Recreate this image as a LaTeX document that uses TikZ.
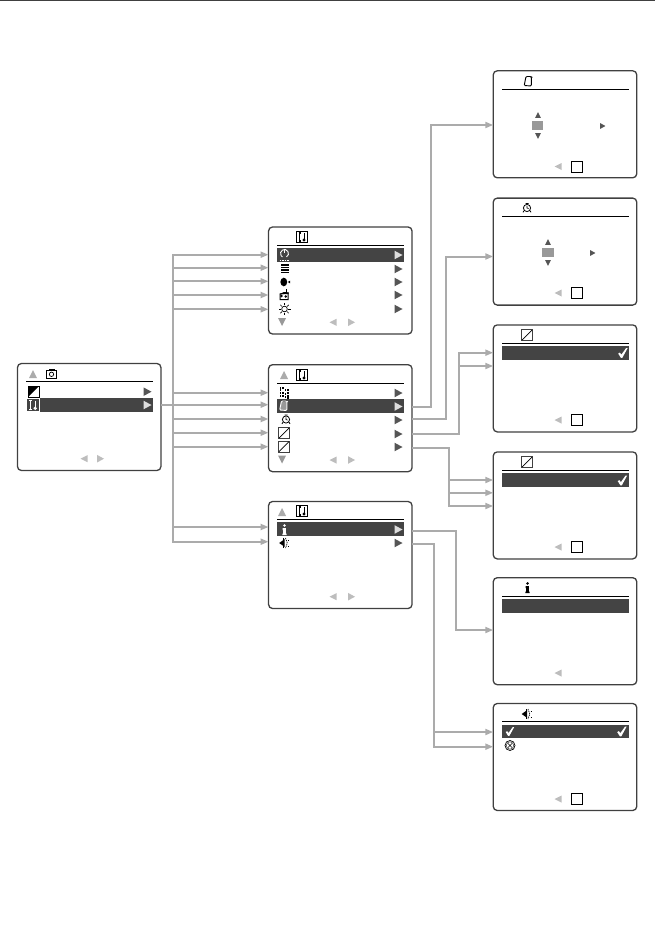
\documentclass[tikz,border=0pt]{standalone}
\usepackage{xcolor}
\usepackage{tikz}
\usetikzlibrary{arrows.meta}

\definecolor{scrline}{HTML}{404040}
\definecolor{barcol}{HTML}{444444}
\definecolor{linkgrey}{HTML}{ABABAB}
\definecolor{markdark}{HTML}{555555}
\definecolor{marklight}{HTML}{DDDDDD}
\definecolor{navgrey}{HTML}{BDBDBD}
\definecolor{spingrey}{HTML}{999999}

\newcommand{\triright}[4]{\fill[#1] ({#2-#4},{#3-#4-0.3}) -- ({#2+#4},#3) -- ({#2-#4},{#3+#4+0.3}) -- cycle;}
\newcommand{\trileft}[4]{\fill[#1] ({#2+#4},{#3-#4}) -- ({#2-#4},#3) -- ({#2+#4},{#3+#4}) -- cycle;}
\newcommand{\triup}[4]{\fill[#1] ({#2-#4},{#3+#4}) -- (#2,{#3-#4}) -- ({#2+#4},{#3+#4}) -- cycle;}
\newcommand{\tridown}[4]{\fill[#1] ({#2-#4},{#3-#4}) -- (#2,{#3+#4}) -- ({#2+#4},{#3-#4}) -- cycle;}

\tikzset{
  screen/.style={draw=scrline, line width=1.3pt, rounded corners=4pt, fill=white, minimum width=143.5pt, minimum height=107pt, inner sep=0pt, outer sep=0pt},
  selbar/.style={fill=barcol, minimum width=127pt, minimum height=14pt, inner sep=0pt, outer sep=0pt},
  okbox/.style={draw=black, line width=0.9pt, fill=white, minimum width=11pt, minimum height=11pt, inner sep=0pt, outer sep=0pt},
  spinbox/.style={fill=spingrey, minimum width=11pt, minimum height=9pt, inner sep=0pt, outer sep=0pt},
  headline/.style={draw=black, line width=1pt},
  link/.style={draw=linkgrey, line width=2pt},
  linkto/.style={link, -{Triangle[length=8pt,width=6pt,fill=linkgrey]}},
  toolsicon/.pic={
    \draw[line width=1pt] (-5.5,-5.5) rectangle (5.5,5.5);
    \draw[line width=1.1pt] (-2.3,-4) -- (-2.3,4) (-3.5,-4) -- (-1,-4) (-3.5,4) -- (-1,4);
    \draw[line width=1pt] (2,-4) -- (2,3);
    \fill (2,3) circle (1.6);
  },
  cameraicon/.pic={
    \draw[line width=0.9pt] (-5,-3.5) rectangle (5,4);
    \fill (-3,-5) rectangle (3,-3.5);
    \draw[line width=0.7pt] (0,0.3) circle (2.2);
  },
  contrasticon/.pic={
    \draw[line width=0.7pt] (-5.5,-5.5) rectangle (5.5,5.5);
    \fill (-5.5,-5.5) -- (5.5,-5.5) -- (-5.5,5.5) -- cycle;
  },
  diagicon/.pic={
    \draw[line width=0.9pt, draw=scrline] (-5.7,-5.5) rectangle (5.7,5.5);
    \draw[line width=0.7pt] (-5,5) -- (5,-5);
  },
  powericon/.pic={
    \draw[line width=0.9pt] (0,-0.5) ++(60:4) arc (60:-240:4);
    \draw[line width=0.9pt] (0,-5.5) -- (0,-1);
    \draw[line width=0.9pt, dash pattern=on 1.5pt off 1pt] (-5,6) -- (5,6);
  },
  barsicon/.pic={
    \foreach \yy in {-3.6,-1.2,1.2,3.6} \fill (-4,{\yy-0.7}) rectangle (4,{\yy+0.7});
  },
  tonericon/.pic={
    \fill (-1.2,0) ellipse (3.4 and 4.3);
    \fill (5,-1.3) -- (2.8,0) -- (5,1.3) -- cycle;
  },
  homeicon/.pic={
    \draw[line width=1pt] (-4,-1) -- (-4,4.5) -- (4,4.5) -- (4,-2) -- cycle;
    \fill (-2.5,1) circle (1.4) (1.8,1.5) circle (1.4);
    \fill (1.5,-6) rectangle (3.3,-2);
    \fill (-4.5,-1) -- (0,-3) -- (4.5,-2.5) -- (4.5,-1) -- cycle;
  },
  sunicon/.pic={
    \draw[line width=0.7pt] (0,0) circle (2.8);
    \foreach \aa in {0,45,...,315} \draw[line width=0.7pt] (\aa:3.6) -- (\aa:6);
  },
  dotsicon/.pic={
    \foreach \xx/\yy in {-4/-5,-1.5/-5,-4/-2.5,1/-2.5,3.5/-2.5,-4/0,-1.5/0,3.5/0,1/1.5,-4/3,-1.5/3,1/4,3.5/3,3.5/5} \fill ({\xx-0.8},{\yy-0.8}) rectangle ({\xx+0.8},{\yy+0.8});
  },
  papericon/.pic={
    \draw[line width=0.9pt, rounded corners=1pt] (-2,-5) -- (3.3,-5) -- (3.3,4.5) -- (-3.8,4) -- cycle;
    \draw[line width=0.7pt] (3.3,-5) -- (4.3,-4);
  },
  clockicon/.pic={
    \draw[line width=0.8pt] (0,0) circle (3.6);
    \draw[line width=0.7pt] (0,-2.2) -- (0,0) -- (1.6,0.6);
    \draw[line width=0.8pt] (-3,2.7) -- (-4,4.3) (3,2.7) -- (4,4.3) (-1.5,-4.6) -- (1.5,-4.6);
  },
  infoicon/.pic={
    \fill (0,-4.6) circle (1.4);
    \fill (-1.8,-2) rectangle (1.4,0) (-1.4,0) rectangle (1.4,3.6) (-2.2,3.6) rectangle (2.2,5);
  },
  speakericon/.pic={
    \fill (-4.8,0) -- (0.5,-3.8) -- (0.5,3.8) -- cycle;
    \draw[line width=0.8pt] (-0.5,-5) -- (-0.5,5);
    \draw[line width=0.7pt, dash pattern=on 1.2pt off 0.8pt] (1.5,-5) -- (3.3,0) -- (1.5,5);
    \draw[line width=0.7pt] (4,-3) -- (4.8,-3) (4,3) -- (4.8,3);
  },
  tickicon/.pic={
    \fill[scale=0.92] (-5.2,0.6) -- (-3.4,-0.4) -- (-1.8,1.8) -- (3.3,-5.3) -- (5,-5.3) -- (-0.8,5.3) -- (-2.3,5.3) -- cycle;
  },
  crossicon/.pic={
    \draw[line width=0.7pt] (0,0) circle (5);
    \draw[line width=0.5pt, scrline] (0,0) circle (3.7);
    \draw[line width=0.6pt] (-2.2,-2.2) -- (2.2,2.2) (-2.2,2.2) -- (2.2,-2.2);
  }
}

\begin{document}
\begin{tikzpicture}[x=1pt,y=-1pt]
  \useasboundingbox (0,0) rectangle (655,939);
  \draw[line width=1.2pt, draw=scrline] (0,0.4) -- (655,0.4);

  \node[screen] (main) at (89.2,417) {};
  \node[screen] (setupA) at (340.3,280.5) {};
  \node[screen] (setupB) at (340.3,418.2) {};
  \node[screen] (setupC) at (340.3,555) {};
  \node[screen] (paper) at (565,124.3) {};
  \node[screen] (clock) at (565,251.6) {};
  \node[screen] (diagA) at (565,378.4) {};
  \node[screen] (diagB) at (565,505.4) {};
  \node[screen] (info) at (565,631.2) {};
  \node[screen] (sound) at (565,757) {};

  \draw[headline] (26,381.3) -- (153,381.3);
  \draw[headline] (277,245.3) -- (404,245.3);
  \draw[headline] (277,383.3) -- (404,383.3);
  \draw[headline] (277,519.3) -- (404,519.3);
  \foreach \yy in {89.3,216,343.3,470.3,596.3,721.7}
    \draw[headline] (502,\yy) -- (629,\yy);

  \node[selbar] (barmain) at (89.5,405) {};
  \node[selbar] (barA) at (340.5,255) {};
  \node[selbar] (barB) at (340.5,406.4) {};
  \node[selbar] (barC) at (340.5,529) {};
  \node[selbar] (bardiagA) at (565.5,353.2) {};
  \node[selbar] (bardiagB) at (565.5,480) {};
  \node[selbar] (barinfo) at (565.5,605.5) {};
  \node[selbar, minimum height=13pt] (barsound) at (565.5,731.3) {};

  \triright{markdark}{147.5}{391.7}{4}
  \triright{marklight}{147.5}{405}{4}
  \foreach \yy in {269,282,295,309}
    {\triright{markdark}{398.5}{\yy}{4}}
  \triright{marklight}{398.5}{255}{4}
  \foreach \yy in {393,420,434,447}
    {\triright{markdark}{398.5}{\yy}{4}}
  \triright{marklight}{398.5}{406.5}{4}
  \triright{marklight}{398.5}{529.5}{4}
  \triright{markdark}{398.5}{543}{4}

  \triup{linkgrey}{33}{374}{4}
  \triup{linkgrey}{284}{375}{4}
  \triup{linkgrey}{282}{512}{4}
  \tridown{spingrey}{282}{322}{4}
  \tridown{spingrey}{282}{459.5}{4}

  \foreach \xx/\yy in {84/458.7,333/322.3,333/460,333/596.7}
    {\trileft{navgrey}{\xx}{\yy}{3.5}}
  \foreach \xx/\yy in {100.5/458.7,351.5/322.3,351.5/460,351.5/596.7}
    {\triright{navgrey}{\xx}{\yy}{3.5}}
  \foreach \yy in {166.5,293,420,547,673,799}
    {\trileft{navgrey}{558}{\yy}{3.5}}

  \foreach \yy/\name in {166.5/a,293/b,420/c,547/d,799/e}
    \node[okbox] (ok\name) at (577.3,\yy) {};

  \triup{markdark}{538}{115}{2.8}
  \node[spinbox] (spinA) at (537.7,125.5) {};
  \tridown{markdark}{538}{136}{2.8}
  \triright{markdark}{602.8}{126}{2.6}
  \triup{markdark}{548}{242}{2.8}
  \node[spinbox, minimum width=12pt] (spinB) at (548,252.5) {};
  \tridown{markdark}{548}{263}{2.8}
  \triright{markdark}{592.8}{253}{2.6}

  \pic at (51.5,374) {cameraicon};
  \pic at (33.5,391.7) {contrasticon};
  \pic[color=white, scale=1.1] at (33,405) {toolsicon};
  \pic at (302,237) {toolsicon};
  \pic at (302,375) {toolsicon};
  \pic at (302,511) {toolsicon};
  \pic[color=white] at (284.5,254) {powericon};
  \pic at (284.5,268.7) {barsicon};
  \pic at (285,282) {tonericon};
  \pic at (284,295) {homeicon};
  \pic at (284.5,309) {sunicon};
  \pic at (284.5,392.7) {dotsicon};
  \fill[spingrey] (281,402) -- (286.5,402) -- (286.5,410) -- (280,410) -- cycle;
  \pic[color=white] at (283.5,406) {papericon};
  \pic at (286,419.5) {clockicon};
  \pic at (284,433) {diagicon};
  \pic at (284,446.5) {diagicon};
  \pic[color=white] at (284.5,530) {infoicon};
  \pic at (284,543) {speakericon};
  \pic at (528,81.5) {papericon};
  \pic at (527,208) {clockicon};
  \pic at (527,335) {diagicon};
  \pic at (527,462) {diagicon};
  \pic at (527.5,588) {infoicon};
  \pic at (526.5,714) {speakericon};
  \pic[color=white] at (623,353) {tickicon};
  \pic[color=white] at (622.5,480.5) {tickicon};
  \pic[color=white, scale=0.9] at (510,731.5) {tickicon};
  \pic[color=white] at (622,731.5) {tickicon};
  \pic at (510,745.5) {crossicon};

  \coordinate (trunk) at (173.4,405);
  \draw[link] (main.east |- barmain) -- (trunk);
  \draw[link, line cap=rect] (trunk |- 0,254.7) -- (trunk |- 0,541.7);
  \foreach \yy in {254.7,267.7,281.3,295,309.3}
    \draw[linkto] (trunk |- 0,\yy) -- (setupA.west |- 0,\yy);
  \foreach \yy in {392.7,404.7,419,432.7,446.7}
    \draw[linkto] (trunk |- 0,\yy) -- (setupB.west |- 0,\yy);
  \foreach \yy in {527,541.7}
    \draw[linkto] (trunk |- 0,\yy) -- (setupC.west |- 0,\yy);

  \draw[linkto] (setupB.east |- 0,406.7) -| (430.7,125) -- (paper.west |- 0,125);
  \draw[linkto] (setupB.east |- 0,419.3) -| (446,256.5) -- (clock.west |- 0,256.5);
  \draw[linkto] (setupB.east |- 0,433.7) -| (458.5,352.7) -- (diagA.west |- 0,352.7);
  \draw[linkto] (458.5,366) -- (diagA.west |- 0,366);
  \draw[linkto] (setupB.east |- 0,447.7) -| (449.3,506) -- (diagB.west |- 0,506);
  \draw[linkto] (449.3,480) -- (diagB.west |- 0,480);
  \draw[linkto] (449.3,492.8) -- (diagB.west |- 0,492.8);
  \draw[linkto] (setupC.east |- 0,531) -| (455.8,630) -- (info.west |- 0,630);
  \draw[linkto] (setupC.east |- 0,544) -| (434,746.7) -- (sound.west |- 0,746.7);
  \draw[linkto] (434,732) -- (sound.west |- 0,732);
\end{tikzpicture}
\end{document}
